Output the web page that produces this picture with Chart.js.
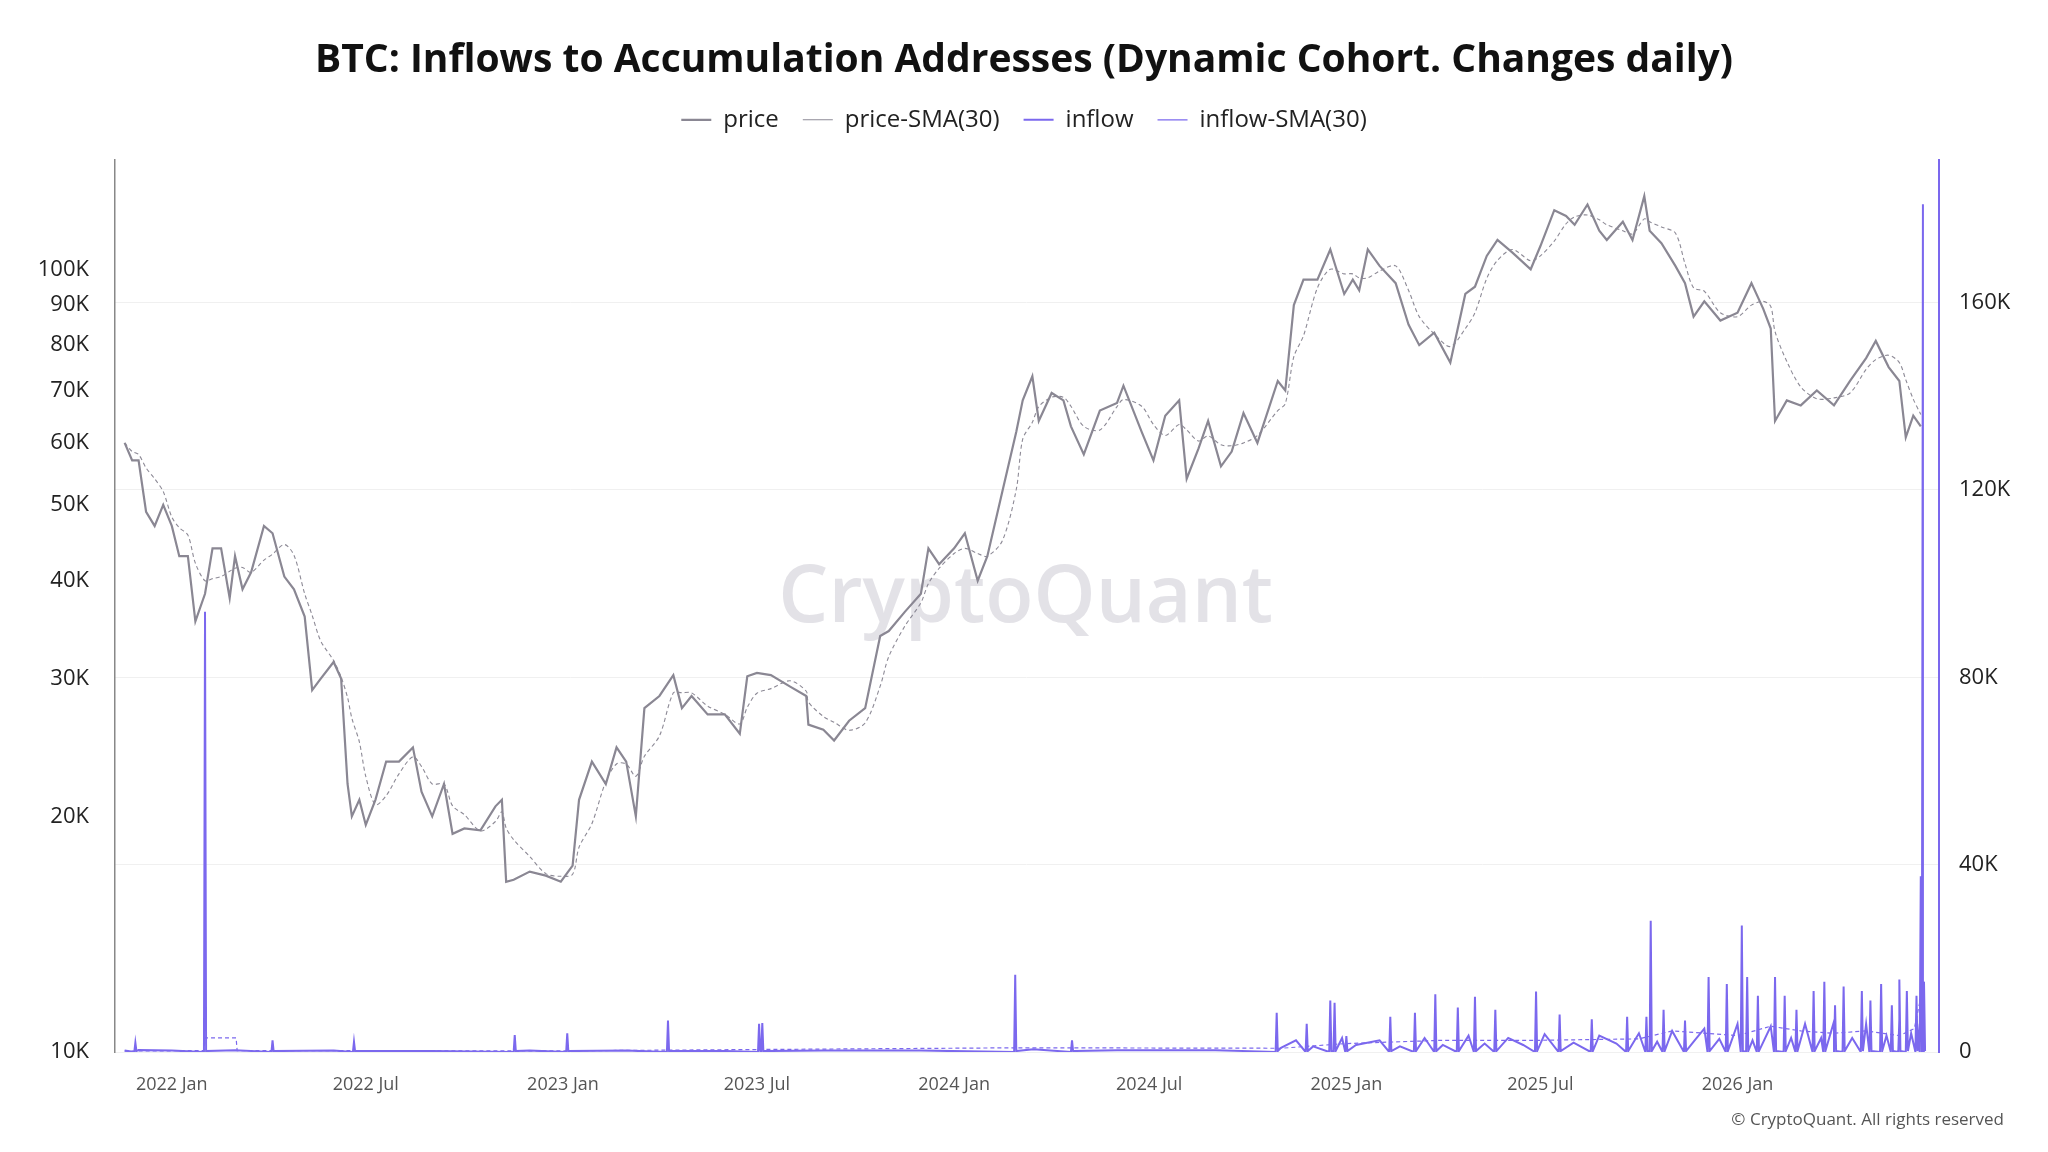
<!DOCTYPE html>
<html>
<head>
<meta charset="utf-8">
<script src="https://cdn.jsdelivr.net/npm/chart.js@4"></script>
<style>
  html, body { margin: 0; padding: 0; background: #fff; }
  #wrap { position: relative; width: 2048px; height: 1152px; }
  #copy { position: absolute; right: 44px; bottom: 22px; font: 17px "Open Sans", sans-serif; color: #555; }
</style>
</head>
<body>
<div id="wrap"><canvas id="chart" width="2048" height="1152"></canvas><div id="copy">© CryptoQuant. All rights reserved</div></div>
<script>
// price samples (USD, thousands)
const priceDates = ["2021-11-18","2021-11-25","2021-12-01","2021-12-08","2021-12-16","2021-12-24","2022-01-01","2022-01-08","2022-01-16","2022-01-23","2022-02-01","2022-02-08","2022-02-16","2022-02-24","2022-03-01","2022-03-08","2022-03-16","2022-03-28","2022-04-05","2022-04-16","2022-04-25","2022-05-05","2022-05-12","2022-05-20","2022-06-01","2022-06-08","2022-06-14","2022-06-18","2022-06-25","2022-07-01","2022-07-10","2022-07-20","2022-08-01","2022-08-14","2022-08-22","2022-09-01","2022-09-12","2022-09-20","2022-10-01","2022-10-16","2022-10-30","2022-11-05","2022-11-09","2022-11-16","2022-12-01","2022-12-16","2022-12-30","2023-01-10","2023-01-16","2023-01-28","2023-02-10","2023-02-20","2023-03-01","2023-03-10","2023-03-18","2023-04-01","2023-04-14","2023-04-22","2023-05-01","2023-05-16","2023-06-01","2023-06-15","2023-06-22","2023-07-01","2023-07-14","2023-08-01","2023-08-16","2023-08-18","2023-09-01","2023-09-11","2023-09-25","2023-10-10","2023-10-24","2023-11-01","2023-11-16","2023-12-01","2023-12-08","2023-12-18","2024-01-01","2024-01-11","2024-01-23","2024-02-01","2024-02-15","2024-02-28","2024-03-05","2024-03-14","2024-03-20","2024-04-01","2024-04-12","2024-04-19","2024-05-01","2024-05-16","2024-06-01","2024-06-07","2024-06-24","2024-07-05","2024-07-16","2024-07-29","2024-08-05","2024-08-16","2024-08-25","2024-09-06","2024-09-16","2024-09-27","2024-10-10","2024-10-29","2024-11-05","2024-11-13","2024-11-22","2024-12-05","2024-12-17","2024-12-30","2025-01-07","2025-01-13","2025-01-21","2025-02-01","2025-02-16","2025-02-28","2025-03-10","2025-03-24","2025-04-08","2025-04-22","2025-05-01","2025-05-12","2025-05-22","2025-06-05","2025-06-22","2025-07-01","2025-07-14","2025-07-25","2025-08-02","2025-08-14","2025-08-25","2025-09-01","2025-09-16","2025-09-25","2025-10-06","2025-10-11","2025-10-22","2025-11-04","2025-11-13","2025-11-21","2025-12-01","2025-12-16","2026-01-01","2026-01-14","2026-01-25","2026-02-01","2026-02-05","2026-02-16","2026-03-01","2026-03-16","2026-04-01","2026-04-16","2026-05-01","2026-05-10","2026-05-22","2026-06-01","2026-06-07","2026-06-14","2026-06-21"];
const priceValues = [60,57,57,49,47,50,47,43,43,35.5,38.5,44,44,38,43,39,41,47,46,40.5,39,36,29,30,31.5,30,22,20,21,19.5,21,23.5,23.5,24.5,21.5,20,22,19,19.3,19.2,20.6,21,16.5,16.6,17,16.8,16.5,17.3,21,23.5,22,24.5,23.5,20,27.5,28.5,30.3,27.5,28.5,27,27,25.5,30.2,30.5,30.3,29.3,28.5,26.2,25.8,25,26.5,27.5,34,34.5,36.5,38.5,44,42,44,46,40,43,52,62,68,73,64,69.5,68,63,58,66,67.5,71,62,57,65,68,54,59,64,56,58.5,65.5,60,72,70,90,97,97,106,93,97,94,106,101,96,85,80,83,76,93,95,104,109,105,100,107,119,117,114,121,112,109,115,109,124,112,108,101,96,87,91,86,88,96,89,84,64,68,67,70,67,72,77,81,75,72,61,65,63];

// inflow: background level plus daily spikes
const inflowBaseDates = ["2021-11-18","2021-12-01","2022-01-01","2022-03-01","2022-06-01","2022-09-01","2022-12-01","2023-03-01","2023-06-01","2023-09-01","2023-12-01","2024-03-15","2024-06-01","2024-09-01","2024-11-01","2024-11-15","2024-12-01","2024-12-28","2025-01-10","2025-02-01","2025-02-20","2025-03-15","2025-04-01","2025-04-25","2025-05-10","2025-06-01","2025-06-15","2025-07-05","2025-08-01","2025-08-25","2025-09-10","2025-10-01","2025-10-18","2025-11-01","2025-11-22","2025-12-01","2025-12-15","2026-01-01","2026-01-15","2026-02-01","2026-02-20","2026-03-05","2026-03-20","2026-04-01","2026-04-18","2026-05-01","2026-05-20","2026-06-01","2026-06-12","2026-06-20"];
const inflowBaseValues = [300,400,300,400,300,200,300,300,200,300,300,600,400,400,900,2500,1200,3000,1500,2500,1200,3000,1500,3500,1800,3000,1500,3800,2000,3500,1800,4000,2200,4500,2500,5000,2800,6000,2500,5500,3000,6000,3000,6500,3000,6000,3500,7000,4000,6000];
const spikeDates = ["2021-11-28","2022-02-01","2022-04-05","2022-06-20","2022-11-17","2023-01-05","2023-04-09","2023-07-03","2023-07-06","2024-02-27","2024-04-20","2024-10-28","2024-11-25","2024-12-17","2024-12-21","2025-01-01","2025-02-11","2025-03-06","2025-03-25","2025-04-15","2025-05-01","2025-05-20","2025-06-27","2025-07-19","2025-08-18","2025-09-20","2025-10-08","2025-10-12","2025-10-24","2025-11-13","2025-12-05","2025-12-22","2026-01-05","2026-01-10","2026-01-20","2026-02-05","2026-02-14","2026-02-25","2026-03-13","2026-03-23","2026-04-02","2026-04-10","2026-04-27","2026-05-05","2026-05-15","2026-05-25","2026-06-01","2026-06-08","2026-06-17","2026-06-21","2026-06-23","2026-06-24"];
const spikeValues = [2000,94000,2500,2200,3600,4000,6700,6000,6200,16500,2500,8400,6000,11000,10500,3400,7500,8400,12300,9500,11800,9000,12900,8000,7000,7500,7500,28000,9000,6700,16000,14500,27000,16000,12000,16000,12000,9000,13000,15000,10000,14000,13000,11000,14500,10000,15500,13000,12000,37500,181000,15000];

// inflow 30d SMA samples
const inflowSmaDates = ["2021-11-18","2022-01-31","2022-02-01","2022-03-02","2022-03-03","2023-01-01","2024-03-01","2024-11-01","2025-01-01","2025-04-01","2025-07-01","2025-10-01","2025-11-01","2026-01-01","2026-02-01","2026-03-01","2026-04-01","2026-05-01","2026-06-01","2026-06-15","2026-06-24"];
const inflowSmaValues = [200,300,3000,3000,300,250,900,800,1800,2500,2500,2800,4500,3500,5500,4500,4000,4500,3500,5000,15000];

const xTickDates = ["2022-01-01","2022-07-01","2023-01-01","2023-07-01","2024-01-01","2024-07-01","2025-01-01","2025-07-01","2026-01-01"];
const leftTicks = [10000,20000,30000,40000,50000,60000,70000,80000,90000,100000];
const rightTicks = [0,40000,80000,120000,160000];

const DAY = 86400000;
const day = s => Date.parse(s + "T00:00:00Z") / DAY;
const MONTHS = ["Jan","Feb","Mar","Apr","May","Jun","Jul","Aug","Sep","Oct","Nov","Dec"];
const S = 1.31;

const pricePts = priceDates.map((d, i) => ({ x: day(d), y: priceValues[i] * 1000 }));
const priceSma = pricePts.map(p => {
  const w = pricePts.filter(q => q.x <= p.x && q.x > p.x - 30);
  return { x: p.x, y: w.reduce((a, q) => a + q.y, 0) / w.length };
});

const inflowPts = inflowBaseDates.map((d, i) => ({ x: day(d), y: inflowBaseValues[i] }));
spikeDates.forEach((d, i) => {
  const x = day(d);
  inflowPts.push({ x: x - 1, y: 0 }, { x, y: spikeValues[i] }, { x: x + 1, y: 200 });
});
inflowPts.sort((a, b) => a.x - b.x);
const inflowSma = inflowSmaDates.map((d, i) => ({ x: day(d), y: inflowSmaValues[i] }));

const GRAY = "#8a8793", PURPLE = "#7b68ee";
const fmtK = v => v === 0 ? "0" : (v / 1000) + "K";

const watermark = {
  id: "watermark",
  beforeDatasetsDraw(chart) {
    const { ctx } = chart;
    ctx.save();
    ctx.font = "600 " + Math.round(60 * S) + "px 'Open Sans', sans-serif";
    ctx.fillStyle = "rgba(200,198,208,0.5)";
    ctx.textAlign = "center"; ctx.textBaseline = "middle";
    ctx.fillText("CryptoQuant", 783 * S, 458 * S);
    ctx.restore();
  }
};

// leave a gap between legend and plot area
const legendGap = {
  id: "legendGap",
  beforeInit(chart) {
    const lg = chart.legend;
    if (!lg) return;
    const fit = lg.fit.bind(lg);
    lg.fit = function () { fit(); this.height += 18; };
  }
};

new Chart(document.getElementById("chart").getContext("2d"), {
  type: "line",
  data: {
    datasets: [
      { label: "price", data: pricePts, yAxisID: "y", borderColor: GRAY, borderWidth: 2.2, pointRadius: 0, pointStyle: "line", tension: 0 },
      { label: "price-SMA(30)", data: priceSma, yAxisID: "y", borderColor: "#8d8a96", borderWidth: 1.1, borderDash: [4, 3], pointRadius: 0, pointStyle: "line", tension: 0.3 },
      { label: "inflow", data: inflowPts, yAxisID: "y1", borderColor: PURPLE, borderWidth: 2, pointRadius: 0, pointStyle: "line", tension: 0 },
      { label: "inflow-SMA(30)", data: inflowSma, yAxisID: "y1", borderColor: PURPLE, borderWidth: 1.2, borderDash: [4, 3], pointRadius: 0, pointStyle: "line", tension: 0 },
    ],
  },
  options: {
    responsive: false, animation: false, maintainAspectRatio: false,
    layout: { padding: { top: 10, right: 0, left: 0, bottom: 0 } },
    plugins: {
      title: { display: true, text: "BTC: Inflows to Accumulation Addresses (Dynamic Cohort. Changes daily)", color: "#111", font: { family: "'Open Sans', sans-serif", size: Math.round(29.7 * S), weight: "bold" }, padding: { top: 27, bottom: 0 } },
      legend: { display: true, labels: { usePointStyle: true, pointStyleWidth: 30, boxHeight: 12, color: "#222", font: { family: "'Open Sans', sans-serif", size: Math.round(18 * S) }, padding: 24 } },
      tooltip: { enabled: false },
    },
    scales: {
      x: {
        type: "linear", min: day("2021-11-09"), max: day("2026-07-08"),
        grid: { display: false }, border: { display: false },
        afterBuildTicks: ax => { ax.ticks = xTickDates.map(d => ({ value: day(d) })); },
        ticks: {
          color: "#555", font: { family: "'Open Sans', sans-serif", size: Math.round(14 * S) }, padding: 14, maxRotation: 0,
          callback: v => { const dt = new Date(v * DAY); return dt.getUTCFullYear() + " " + MONTHS[dt.getUTCMonth()]; },
        },
        afterFit: ax => { ax.height = 100; },
      },
      y: {
        type: "logarithmic", position: "left", min: 10000, max: 138000,
        grid: { display: false }, border: { display: true, color: "#888", width: 1.5 },
        afterBuildTicks: ax => { ax.ticks = leftTicks.map(v => ({ value: v })); },
        ticks: { color: "#222", font: { family: "'Open Sans', sans-serif", size: Math.round(17 * S) }, padding: 18, callback: fmtK },
        afterFit: ax => { ax.width = 115; },
      },
      y1: {
        type: "linear", position: "right", min: 0, max: 190500,
        grid: { display: true, color: "#f0f0f0", drawTicks: false }, border: { display: true, color: PURPLE, width: 2 },
        afterBuildTicks: ax => { ax.ticks = rightTicks.map(v => ({ value: v })); },
        ticks: { color: "#222", font: { family: "'Open Sans', sans-serif", size: Math.round(17 * S) }, padding: 20, callback: fmtK },
        afterFit: ax => { ax.width = 109; },
      },
    },
  },
  plugins: [watermark, legendGap],
});
</script>
</body>
</html>
